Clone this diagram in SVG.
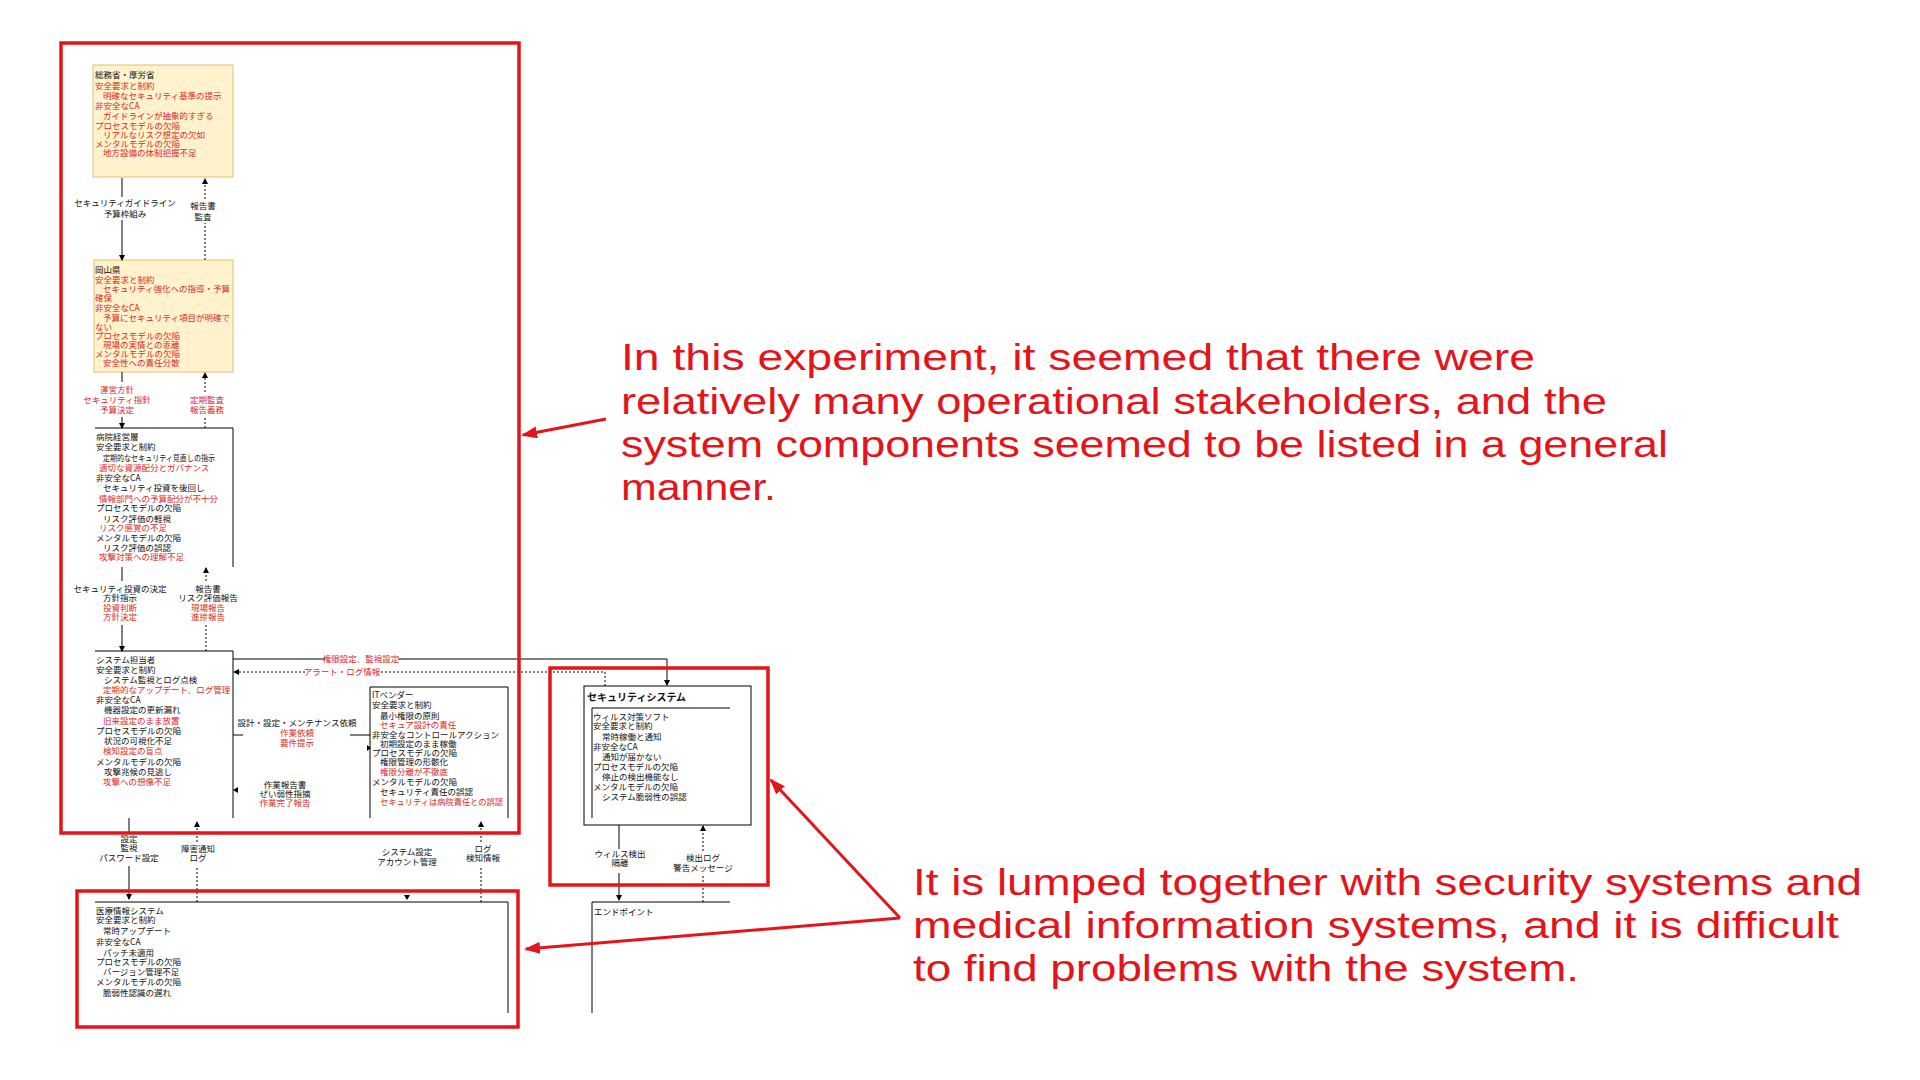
<svg xmlns="http://www.w3.org/2000/svg" width="1920" height="1080" viewBox="0 0 1920 1080">
<style>
text{font-family:"Noto Sans CJK JP","Noto Sans",sans-serif;font-size:8.5px;fill:#111}
.r{fill:#e02828}
.c{text-anchor:middle}
.ttl{font-size:10px;font-weight:bold}
.ann{font-family:"Liberation Sans","Noto Sans",sans-serif;font-size:36px;fill:#e4141b}
.yb{fill:#fff2cc;stroke:#d6b656;stroke-width:0.8}
.bl{fill:none;stroke:#000;stroke-width:1}
.sol{fill:none;stroke:#000;stroke-width:1}
.dot{fill:none;stroke:#000;stroke-width:1;stroke-dasharray:2 2}
.rb{fill:none;stroke:#e4141b;stroke-width:3.5}
.ra{fill:none;stroke:#e4141b;stroke-width:3}
</style>
<defs>
<marker id="ah" markerWidth="6" markerHeight="6" refX="5" refY="3" orient="auto" markerUnits="userSpaceOnUse"><path d="M0,0 L6,3 L0,6 Z" fill="#000"/></marker>
<marker id="rah" markerWidth="16" markerHeight="12" refX="14" refY="6" orient="auto" markerUnits="userSpaceOnUse"><path d="M0,0 L16,6 L0,12 Z" fill="#e4141b"/></marker>
</defs>

<g id="node-soumu">
<rect class="yb" x="93" y="65" width="140" height="112"/>
<text x="95" y="78">総務省・厚労省</text>
<text class="r" x="95" y="89">安全要求と制約</text>
<text class="r" x="103" y="99">明確なセキュリティ基準の提示</text>
<text class="r" x="95" y="109">非安全なCA</text>
<text class="r" x="103" y="119">ガイドラインが抽象的すぎる</text>
<text class="r" x="95" y="129">プロセスモデルの欠陥</text>
<text class="r" x="103" y="138">リアルなリスク想定の欠如</text>
<text class="r" x="95" y="147">メンタルモデルの欠陥</text>
<text class="r" x="103" y="156">地方設備の体制把握不足</text>
</g>

<g id="node-okayama">
<rect class="yb" x="94" y="260" width="139" height="112"/>
<text x="95" y="273">岡山県</text>
<text class="r" x="95" y="283">安全要求と制約</text>
<text class="r" x="103" y="292">セキュリティ強化への指導・予算</text>
<text class="r" x="95" y="301">確保</text>
<text class="r" x="95" y="311">非安全なCA</text>
<text class="r" x="103" y="321">予算にセキュリティ項目が明確で</text>
<text class="r" x="95" y="330">ない</text>
<text class="r" x="95" y="339">プロセスモデルの欠陥</text>
<text class="r" x="103" y="348">現場の実情との乖離</text>
<text class="r" x="95" y="357">メンタルモデルの欠陥</text>
<text class="r" x="103" y="366">安全性への責任分散</text>
</g>

<g id="node-keiei">
<path class="bl" d="M95,428 H233 V567"/>
<text x="96" y="440">病院経営層</text>
<text x="96" y="450">安全要求と制約</text>
<text x="103" y="461" textLength="112" lengthAdjust="spacingAndGlyphs">定期的なセキュリティ見直しの指示</text>
<text class="r" x="99" y="471">適切な資源配分とガバナンス</text>
<text x="96" y="481">非安全なCA</text>
<text x="103" y="491">セキュリティ投資を後回し</text>
<text class="r" x="99" y="502">情報部門への予算配分が不十分</text>
<text x="96" y="511">プロセスモデルの欠陥</text>
<text x="103" y="522">リスク評価の軽視</text>
<text class="r" x="99" y="531">リスク感覚の不足</text>
<text x="96" y="541">メンタルモデルの欠陥</text>
<text x="103" y="551">リスク評価の誤認</text>
<text class="r" x="99" y="560">攻撃対策への理解不足</text>
</g>

<g id="node-system-tanto">
<path class="bl" d="M95,651 H233 V818"/>
<text x="96" y="663">システム担当者</text>
<text x="96" y="673">安全要求と制約</text>
<text x="104" y="683">システム監視とログ点検</text>
<text class="r" x="103" y="693">定期的なアップデート、ログ管理</text>
<text x="96" y="703">非安全なCA</text>
<text x="104" y="713">機器設定の更新漏れ</text>
<text class="r" x="103" y="724">旧来設定のまま放置</text>
<text x="96" y="734">プロセスモデルの欠陥</text>
<text x="104" y="744">状況の可視化不足</text>
<text class="r" x="103" y="754">検知設定の盲点</text>
<text x="96" y="765">メンタルモデルの欠陥</text>
<text x="104" y="775">攻撃兆候の見逃し</text>
<text class="r" x="103" y="785">攻撃への想像不足</text>
</g>

<g id="node-it-vendor">
<path class="bl" d="M370,818 V687 H508 V818"/>
<text x="372" y="698">ITベンダー</text>
<text x="372" y="708">安全要求と制約</text>
<text x="380" y="719">最小権限の原則</text>
<text class="r" x="380" y="728">セキュア設計の責任</text>
<text x="372" y="738">非安全なコントロールアクション</text>
<text x="380" y="747">初期設定のまま稼働</text>
<text x="372" y="756">プロセスモデルの欠陥</text>
<text x="380" y="765">権限管理の形骸化</text>
<text class="r" x="380" y="775">権限分離が不徹底</text>
<text x="372" y="785">メンタルモデルの欠陥</text>
<text x="380" y="795">セキュリティ責任の誤認</text>
<text class="r" x="380" y="805" textLength="123" lengthAdjust="spacingAndGlyphs">セキュリティは病院責任との誤認</text>
</g>

<g id="node-security-system">
<rect class="bl" x="584" y="686" width="167" height="139"/>
<text class="ttl" x="587" y="701">セキュリティシステム</text>
<path class="bl" d="M730,708 H592 V818"/>
<text x="593" y="720">ウィルス対策ソフト</text>
<text x="593" y="729">安全要求と制約</text>
<text x="602" y="740">常時稼働と通知</text>
<text x="593" y="750">非安全なCA</text>
<text x="602" y="760">通知が届かない</text>
<text x="593" y="770">プロセスモデルの欠陥</text>
<text x="602" y="780">停止の検出機能なし</text>
<text x="593" y="790">メンタルモデルの欠陥</text>
<text x="602" y="800">システム脆弱性の誤認</text>
</g>

<g id="node-endpoint">
<path class="bl" d="M730,902 H592 V1013"/>
<text x="594" y="915">エンドポイント</text>
</g>

<g id="node-iryo">
<path class="bl" d="M95,902 H508 V1013"/>
<text x="96" y="914">医療情報システム</text>
<text x="96" y="923">安全要求と制約</text>
<text x="103" y="934">常時アップデート</text>
<text x="96" y="945">非安全なCA</text>
<text x="103" y="956">パッチ未適用</text>
<text x="96" y="965">プロセスモデルの欠陥</text>
<text x="103" y="975">バージョン管理不足</text>
<text x="96" y="985">メンタルモデルの欠陥</text>
<text x="103" y="996">脆弱性認識の遅れ</text>
</g>

<g id="connectors">
<path class="sol" d="M122,178 V197"/>
<path class="sol" d="M122,220 V260" marker-end="url(#ah)"/>
<text class="c" x="125" y="206">セキュリティガイドライン</text>
<text class="c" x="125" y="217">予算枠組み</text>
<path class="dot" d="M205,260 V223"/>
<path class="dot" d="M205,199 V179" marker-end="url(#ah)"/>
<text class="c" x="203" y="209">報告書</text>
<text class="c" x="203" y="220">監査</text>

<path class="sol" d="M122,372 V382"/>
<path class="sol" d="M122,417 V428" marker-end="url(#ah)"/>
<text class="c r" x="117" y="393">運営方針</text>
<text class="c r" x="117" y="403">セキュリティ指針</text>
<text class="c r" x="117" y="413">予算決定</text>
<path class="dot" d="M205,428 V417"/>
<path class="dot" d="M205,392 V373" marker-end="url(#ah)"/>
<text class="c r" x="207" y="403">定期監査</text>
<text class="c r" x="207" y="413">報告義務</text>

<path class="sol" d="M122,567 V581"/>
<path class="sol" d="M122,625 V651" marker-end="url(#ah)"/>
<text class="c" x="120" y="592">セキュリティ投資の決定</text>
<text class="c" x="120" y="601">方針指示</text>
<text class="c r" x="120" y="611">投資判断</text>
<text class="c r" x="120" y="620">方針決定</text>
<path class="dot" d="M206,651 V625"/>
<path class="dot" d="M206,581 V568" marker-end="url(#ah)"/>
<text class="c" x="208" y="592">報告書</text>
<text class="c" x="208" y="601">リスク評価報告</text>
<text class="c r" x="208" y="611">現場報告</text>
<text class="c r" x="208" y="620">進捗報告</text>

<path class="sol" d="M233,659 H325"/>
<path class="sol" d="M398,659 H667 V685" marker-end="url(#ah)"/>
<text class="c r" x="361" y="662">権限設定、監視設定</text>
<path class="dot" d="M605,686 V672 H380"/>
<path class="dot" d="M305,672 H234" marker-end="url(#ah)"/>
<text class="c r" x="342" y="675">アラート・ログ情報</text>

<path class="sol" d="M233,735 H243"/>
<path class="sol" d="M350,735 H370"/>
<path d="M367,745 L371,748 L367,751 Z" fill="#000"/>
<text class="c" x="297" y="726">設計・設定・メンテナンス依頼</text>
<text class="c r" x="297" y="736">作業依頼</text>
<text class="c r" x="297" y="746">要件提示</text>
<path d="M238,787 L233,790 L238,793 Z" fill="#000"/>
<text class="c" x="285" y="788">作業報告書</text>
<text class="c" x="285" y="797">ぜい弱性指摘</text>
<text class="c r" x="285" y="806">作業完了報告</text>

<path class="sol" d="M129,818 V833"/>
<path class="sol" d="M129,866 V899" marker-end="url(#ah)"/>
<text class="c" x="129" y="842">設定</text>
<text class="c" x="129" y="851">監視</text>
<text class="c" x="129" y="861">パスワード設定</text>
<path class="dot" d="M197,902 V866"/>
<path class="dot" d="M197,842 V822" marker-end="url(#ah)"/>
<text class="c" x="198" y="852">障害通知</text>
<text class="c" x="198" y="861">ログ</text>
<path d="M404,895 L407,900 L410,895 Z" fill="#000"/>
<text class="c" x="407" y="855">システム設定</text>
<text class="c" x="407" y="865">アカウント管理</text>
<path class="dot" d="M481,902 V866"/>
<path class="dot" d="M481,842 V822" marker-end="url(#ah)"/>
<text class="c" x="483" y="852">ログ</text>
<text class="c" x="483" y="861">検知情報</text>

<path class="sol" d="M619,825 V849"/>
<path class="sol" d="M619,873 V900" marker-end="url(#ah)"/>
<text class="c" x="620" y="857">ウィルス検出</text>
<text class="c" x="620" y="866">隔離</text>
<path class="dot" d="M703,902 V876"/>
<path class="dot" d="M703,851 V826" marker-end="url(#ah)"/>
<text class="c" x="703" y="861">検出ログ</text>
<text class="c" x="703" y="871">警告メッセージ</text>
</g>

<g id="highlights">
<rect class="rb" x="61" y="43" width="458" height="790"/>
<rect class="rb" x="77" y="891" width="441" height="136"/>
<rect class="rb" x="550" y="668" width="218" height="217"/>
<path class="ra" d="M606,419 L523,435" marker-end="url(#rah)"/>
<path class="ra" d="M900,918 L771,780" marker-end="url(#rah)"/>
<path class="ra" d="M900,918 L526,949" marker-end="url(#rah)"/>
</g>

<g id="annotations">
<text class="ann" x="621" y="370" textLength="914" lengthAdjust="spacingAndGlyphs">In this experiment, it seemed that there were</text>
<text class="ann" x="621" y="414" textLength="986" lengthAdjust="spacingAndGlyphs">relatively many operational stakeholders, and the</text>
<text class="ann" x="621" y="457" textLength="1047" lengthAdjust="spacingAndGlyphs">system components seemed to be listed in a general</text>
<text class="ann" x="621" y="500" textLength="155" lengthAdjust="spacingAndGlyphs">manner.</text>
<text class="ann" x="913" y="895" textLength="949" lengthAdjust="spacingAndGlyphs">It is lumped together with security systems and</text>
<text class="ann" x="913" y="938" textLength="926" lengthAdjust="spacingAndGlyphs">medical information systems, and it is difficult</text>
<text class="ann" x="913" y="981" textLength="666" lengthAdjust="spacingAndGlyphs">to find problems with the system.</text>
</g>
</svg>
